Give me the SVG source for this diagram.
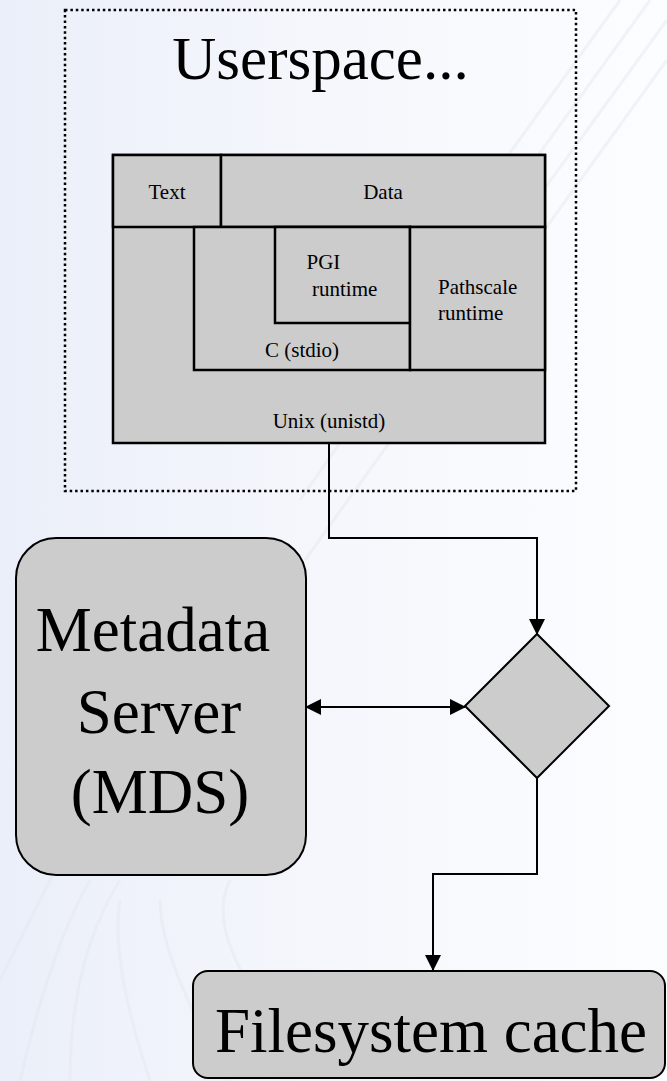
<svg xmlns="http://www.w3.org/2000/svg" width="667" height="1081" viewBox="0 0 667 1081">
  <defs>
    <linearGradient id="bg" x1="0" y1="0" x2="1" y2="0">
      <stop offset="0" stop-color="#ebeff9"/>
      <stop offset="0.5" stop-color="#f5f7fc"/>
      <stop offset="1" stop-color="#fcfdff"/>
    </linearGradient>
    <marker id="arrow" viewBox="0 0 16 16" refX="15" refY="8" markerWidth="16" markerHeight="16" markerUnits="userSpaceOnUse" orient="auto-start-reverse">
      <path d="M0,0 L16,8 L0,16 Z" fill="#000"/>
    </marker>
    <style>
      .box { fill: #cccccc; stroke: #000; stroke-width: 2.5; }
      .node { fill: #cccccc; stroke: #000; stroke-width: 2; }
      .wire { fill: none; stroke: #000; stroke-width: 2; }
      .small { font-family: "Liberation Serif", "Times New Roman", serif; font-size: 21px; fill: #000; }
      .big { font-family: "Liberation Serif", "Times New Roman", serif; font-size: 63px; fill: #000; }
      .deco { fill: none; stroke: #e2e6ee; stroke-width: 3; opacity: 0.45; }
    </style>
  </defs>

  <!-- backdrop -->
  <rect x="0" y="0" width="667" height="1081" fill="url(#bg)"/>
  <g id="backdrop-lines">
    <path class="deco" d="M440,250 L620,0"/>
    <path class="deco" d="M470,250 L650,0"/>
    <path class="deco" d="M500,250 L667,20"/>
    <path class="deco" d="M530,250 L667,60"/>
    <path class="deco" d="M300,500 L440,300"/>
    <path class="deco" d="M305,560 L420,400"/>
    <path class="deco" d="M0,980 Q40,900 60,860"/>
    <path class="deco" d="M20,1081 Q50,950 90,880"/>
    <path class="deco" d="M70,1081 Q70,960 120,880"/>
    <path class="deco" d="M150,1081 Q110,960 120,900"/>
    <path class="deco" d="M230,1081 Q160,960 160,900"/>
    <path class="deco" d="M300,1050 Q200,940 230,880"/>
  </g>

  <!-- userspace boundary -->
  <g id="userspace">
    <rect x="65" y="10" width="511" height="481" fill="none" stroke="#000" stroke-width="2.5" stroke-dasharray="2.5 2.9"/>
    <text class="big" x="320.5" y="79" text-anchor="middle" style="font-size:61px">Userspace...</text>
  </g>

  <!-- library stack -->
  <g id="unix">
    <rect class="box" x="113" y="155" width="432" height="288"/>
    <text class="small" x="329" y="428" text-anchor="middle">Unix (unistd)</text>
  </g>
  <g id="text-seg">
    <rect class="box" x="113" y="155" width="108" height="72"/>
    <text class="small" x="167" y="199" text-anchor="middle">Text</text>
  </g>
  <g id="data-seg">
    <rect class="box" x="221" y="155" width="324" height="72"/>
    <text class="small" x="383" y="199" text-anchor="middle">Data</text>
  </g>
  <g id="c-stdio">
    <rect class="box" x="194" y="227" width="216" height="143"/>
    <text class="small" x="302" y="357" text-anchor="middle">C (stdio)</text>
  </g>
  <g id="pgi">
    <rect class="box" x="275" y="227" width="135" height="96"/>
    <text class="small" x="306.5" y="269">PGI</text>
    <text class="small" x="312" y="296">runtime</text>
  </g>
  <g id="pathscale">
    <rect class="box" x="410" y="227" width="135" height="143"/>
    <text class="small" x="438" y="294">Pathscale</text>
    <text class="small" x="438" y="320">runtime</text>
  </g>

  <!-- metadata server -->
  <g id="mds">
    <rect class="node" x="16" y="538" width="290" height="337" rx="40" ry="40"/>
    <text class="big" x="153" y="651" text-anchor="middle">Metadata</text>
    <text class="big" x="159" y="733" text-anchor="middle">Server</text>
    <text class="big" x="160" y="813" text-anchor="middle">(MDS)</text>
  </g>

  <!-- decision -->
  <g id="decision">
    <path class="node" d="M537,634 L609,706 L537,778 L465,706 Z"/>
  </g>

  <!-- filesystem cache -->
  <g id="fscache">
    <rect class="node" x="193" y="971" width="472" height="107" rx="15" ry="15"/>
    <text class="big" x="431" y="1052" text-anchor="middle">Filesystem cache</text>
  </g>

  <!-- connectors -->
  <g id="connectors">
    <path class="wire" d="M329,443 L329,538 L537,538 L537,634" marker-end="url(#arrow)"/>
    <path class="wire" d="M306,707 L465,707" marker-start="url(#arrow)" marker-end="url(#arrow)"/>
    <path class="wire" d="M537,778 L537,874 L433,874 L433,970" marker-end="url(#arrow)"/>
  </g>
</svg>
